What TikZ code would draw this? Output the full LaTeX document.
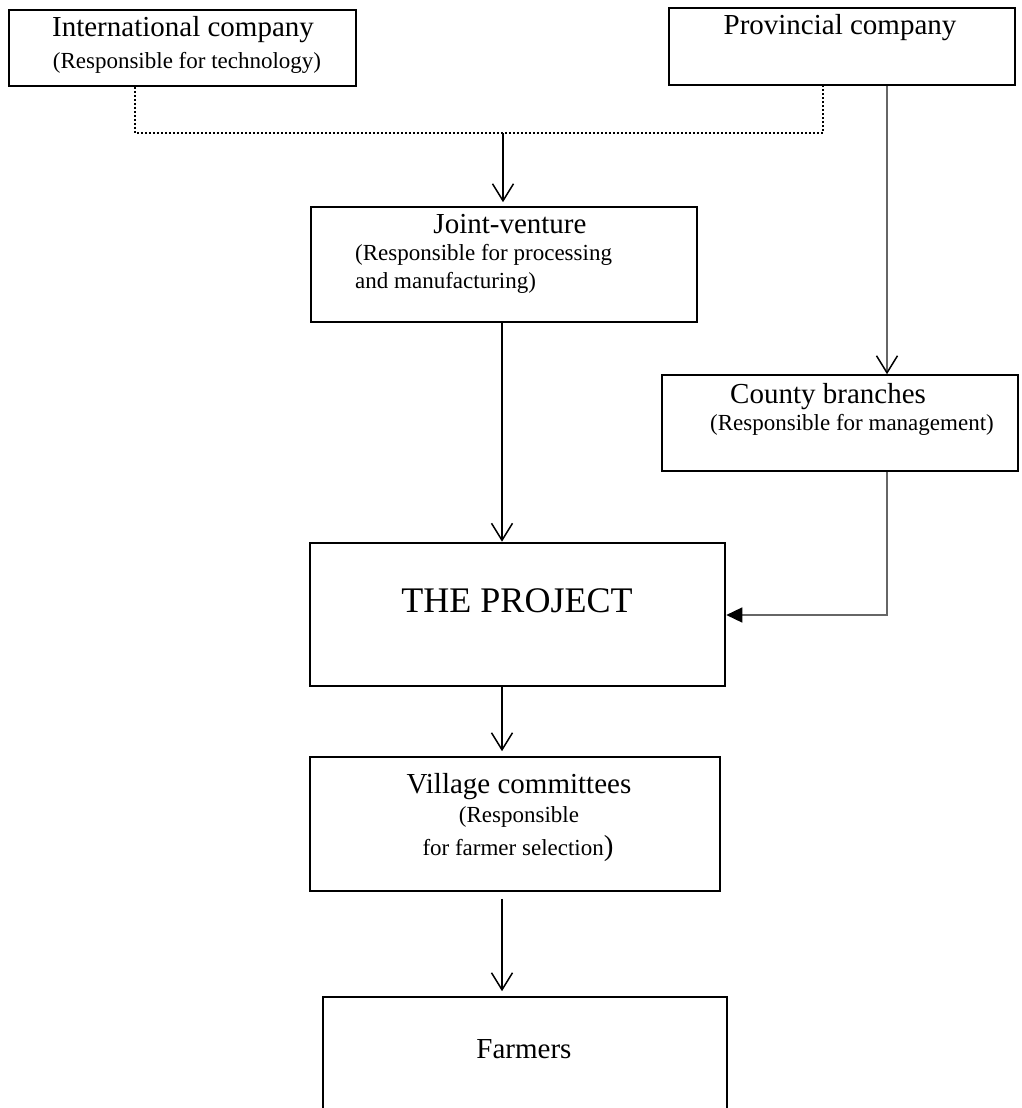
\documentclass[tikz,border=0pt]{standalone}
\usepackage{fontspec}
\setmainfont{Liberation Serif}
\usetikzlibrary{arrows.meta}

\tikzset{
  box/.style={draw=black, line width=1.6pt, rectangle, inner sep=0pt, fill=white},
  bigbox/.style={box, line width=2.6pt},
  head/.style={font=\fontsize{29}{34}\selectfont, anchor=base, inner sep=0pt},
  sub/.style={font=\fontsize{23}{28}\selectfont, anchor=base, inner sep=0pt},
  subleft/.style={sub, anchor=base west},
  vee/.style={-{Straight Barb[length=17pt,width=21pt,line width=1.5pt]}},
  link/.style={line width=1.5pt, vee},
  greylink/.style={line width=1.5pt, draw=black!60},
  dotline/.style={line width=2pt, dash pattern=on 2pt off 2pt},
}

\begin{document}
\begin{tikzpicture}[x=1pt,y=-1pt]
\useasboundingbox (0,0) rectangle (1021,1108);
\clip (0,0) rectangle (1021,1108);

% boxes
\node[box, minimum width=347pt, minimum height=76pt] (intl) at (182.5,48) {};
\node[box, minimum width=346pt, minimum height=77pt] (prov) at (842,46.5) {};
\node[box, minimum width=386pt, minimum height=115pt] (jv) at (504,264.5) {};
\node[box, minimum width=356pt, minimum height=96pt] (county) at (840,423) {};
\node[bigbox, minimum width=415pt, minimum height=143pt] (proj) at (517.5,614.5) {};
\node[box, minimum width=410pt, minimum height=134pt] (vill) at (515,824) {};
\node[box, minimum width=404pt, minimum height=130pt] (farm) at (525,1062) {};

% box texts
\node[head] (tintl) at (183,37) {International company};
\node[sub] (tintl2) at (187,68) {(Responsible for technology)};
\node[head] (tprov) at (840,35) {Provincial company};
\node[head] (tjv) at (510,233) {Joint-venture};
\node[subleft] (tjv2) at (355,260) {(Responsible for processing};
\node[subleft] (tjv3) at (355,288) {and manufacturing)};
\node[head, anchor=base west] (tcounty) at (730,403) {County branches};
\node[subleft] (tcounty2) at (710,430) {(Responsible for management)};
\node[font=\fontsize{36}{42}\selectfont, anchor=base, inner sep=0pt] (tproj) at (517,612) {THE PROJECT};
\node[head] (tvill) at (519,793) {Village committees};
\node[sub] (tvill2) at (519,822) {(Responsible};
\node[sub] (tvill3) at (518,855) {for farmer selection\fontsize{29}{34}\selectfont)};
\node[head] (tfarm) at (524,1058) {Farmers};

% guide coordinates for the connectors
\coordinate (dl) at (135,133);
\coordinate (dr) at (823,133);
\coordinate (jn) at (503,133);
\coordinate (mid) at (502,0);
\coordinate (px) at (887,0);
\coordinate (bend) at (887,615);

% dotted joint line from both companies to the joint-venture
\draw[dotline] (dl |- intl.south) -- (dl) -- (dr) -- (dr |- prov.south);
\draw[link, shorten >=4pt] (jn) -- (jn |- jv.north);

% provincial company to county branches
\draw[greylink, -{Straight Barb[length=17pt,width=21pt,line width=1.5pt,color=black]}]
  (px |- prov.south) -- (px |- county.north);

% county branches into the project
\draw[greylink, -{Triangle[length=16pt,width=15pt,color=black]}]
  (px |- county.south) -- (bend) -- (proj.east |- bend);

% main vertical chain
\draw[link] (mid |- jv.south) -- (mid |- proj.north);
\draw[link, shorten >=5pt] (mid |- proj.south) -- (mid |- vill.north);
\draw[link, shorten <=7pt, shorten >=5pt] (mid |- vill.south) -- (mid |- farm.north);
\end{tikzpicture}
\end{document}
